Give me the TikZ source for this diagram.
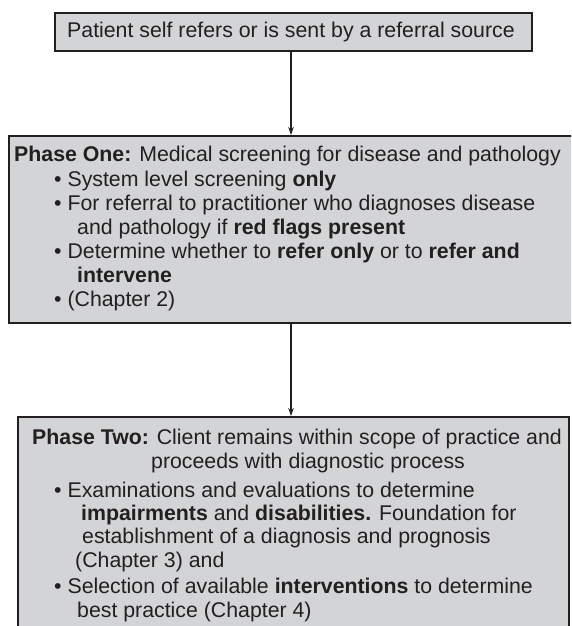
\documentclass[tikz,border=0pt]{standalone}
\usepackage{fontspec}
\setmainfont{Liberation Sans}
\usetikzlibrary{arrows.meta}
\definecolor{ink}{HTML}{231F20}
\definecolor{panel}{HTML}{D3D4D6}
\begin{document}
\begin{tikzpicture}[x=1pt,y=-1pt,
  panelbox/.style={draw=ink, line width=2.4pt, fill=panel, inner sep=0pt, anchor=north west},
  txt/.style={anchor=base west, inner sep=0pt, text=ink, font=\fontsize{21.3}{24}\selectfont},
  flow/.style={draw=ink, line width=1.2pt, -{Stealth[length=8pt,width=5.5pt]}}]
\useasboundingbox (0,0) rectangle (571,626);
\clip (0,0) rectangle (571,626);

% boxes
\node[panelbox, minimum width=477pt, minimum height=38pt] (src) at (54,12) {};
\node[panelbox, minimum width=580pt, minimum height=187pt] (one) at (8,135) {};
\node[panelbox, minimum width=551pt, minimum height=240pt] (two) at (17,416) {};

% connectors
\coordinate (axis) at (291,0);
\draw[flow] (src.south -| axis) -- (one.north -| axis);
\draw[flow] (one.south -| axis) -- (two.north -| axis);

% referral
\node[txt] (s1) at (67,37.7) {Patient self refers or is sent by a referral source};

% phase one
\node[txt] (a1) at (14,161) {\textbf{Phase One:} Medical screening for disease and pathology};
\node[txt] (a2) at (54,186) {• System level screening \textbf{only}};
\node[txt] (a3) at (54,210) {• For referral to practitioner who diagnoses disease};
\node[txt] (a4) at (77,234) {and pathology if \textbf{red flags present}};
\node[txt] (a5) at (54,258) {• Determine whether to \textbf{refer only} or to \textbf{refer and}};
\node[txt] (a6) at (77,282) {\textbf{intervene}};
\node[txt] (a7) at (54,306) {• (Chapter 2)};

% phase two
\node[txt] (b1) at (32,444) {\textbf{Phase Two:} Client remains within scope of practice and};
\node[txt] (b2) at (151,468) {proceeds with diagnostic process};
\node[txt] (b3) at (54,497) {• Examinations and evaluations to determine};
\node[txt] (b4) at (81,520) {\textbf{impairments} and \textbf{disabilities.} Foundation for};
\node[txt] (b5) at (82,543) {establishment of a diagnosis and prognosis};
\node[txt] (b6) at (75,567) {(Chapter 3) and};
\node[txt] (b7) at (54,593) {• Selection of available \textbf{interventions} to determine};
\node[txt] (b8) at (77,617) {best practice (Chapter 4)};
\end{tikzpicture}
\end{document}
